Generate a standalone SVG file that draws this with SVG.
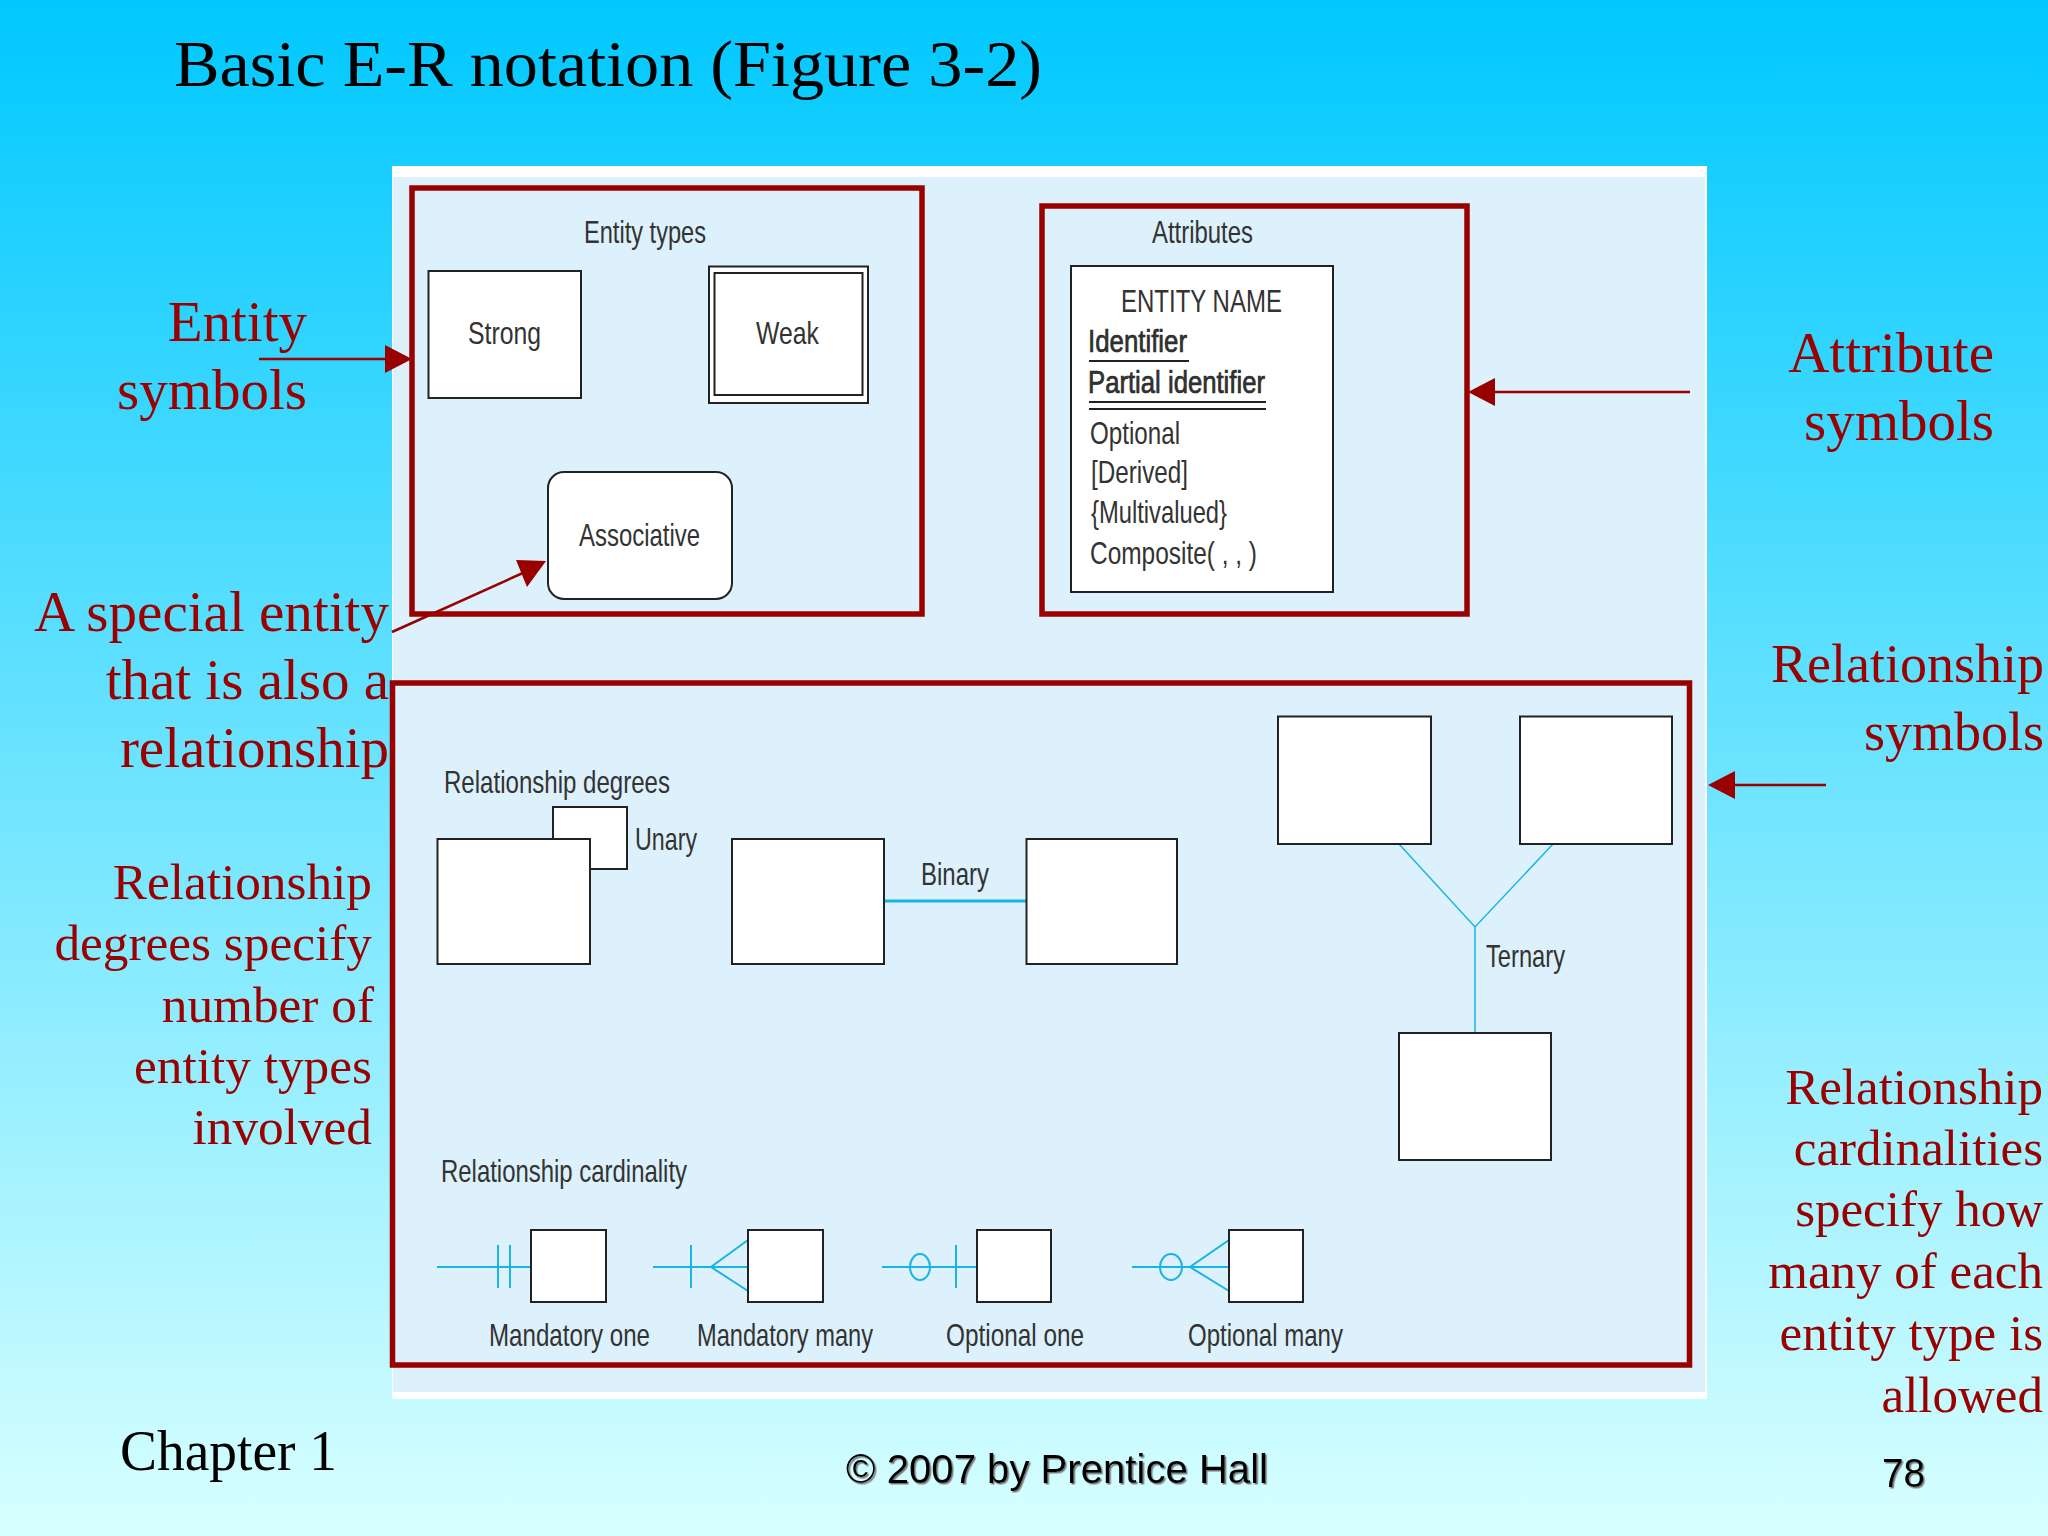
<svg xmlns="http://www.w3.org/2000/svg" width="2048" height="1536" viewBox="0 0 2048 1536">
<style>
.r{font-family:"Liberation Serif",serif;fill:#990000;text-anchor:end}
.r20{font-size:57px}.r18{font-size:51.300px}.r17{font-size:51px}.r54{font-size:54px}
.k{font-family:"Liberation Sans",Arial,sans-serif;fill:#333;font-size:32px}
.sb{stroke:#222;stroke-width:.7}
.b{fill:#fff;stroke:#222;stroke-width:2}
.f{fill:none;stroke:#990000;stroke-width:5.5}
.c{fill:none;stroke:#18b4e6;stroke-width:2}
.t{fill:none;stroke:#18b4e6;stroke-width:1.5}
.w{fill:none;stroke:#18b4e6;stroke-width:3}
.u{fill:none;stroke:#222;stroke-width:2}
.a{fill:none;stroke:#990000;stroke-width:2.5}
.h{fill:#990000}
.s{font-family:"Liberation Sans",sans-serif;font-size:40px;fill:#000;filter:url(#sh)}
</style>
<defs>
<linearGradient id="bg" x1="0" y1="0" x2="0" y2="1"><stop offset="0" stop-color="#00c8ff"/><stop offset="1" stop-color="#d8ffff"/></linearGradient>
<filter id="sh" x="-5%" y="-20%" width="110%" height="140%"><feDropShadow dx="1.5" dy="1.5" stdDeviation="0.6" flood-color="#777"/></filter>
</defs>
<rect width="2048" height="1536" fill="url(#bg)"/>
<text x="174" y="86" font-family="Liberation Serif,serif" font-size="66" fill="#000" textLength="868" lengthAdjust="spacingAndGlyphs">Basic E-R notation (Figure 3-2)</text>

<g id="panel">
<rect x="392" y="166" width="1315" height="1233" fill="#fff"/>
<rect x="393" y="177" width="1312" height="1215" fill="#dcf1fb"/>
</g>

<g id="entity-frame"><rect class="f" x="412" y="188" width="510" height="426"/>
<text class="k" x="584" y="243" textLength="122" lengthAdjust="spacingAndGlyphs">Entity types</text></g>
<g id="attr-frame"><rect class="f" x="1042" y="206" width="425" height="408"/>
<text class="k" x="1152" y="243" textLength="101" lengthAdjust="spacingAndGlyphs">Attributes</text></g>
<g id="rel-frame"><rect class="f" x="392.500" y="683" width="1297" height="682"/></g>

<g id="strong"><rect class="b" x="428.500" y="271" width="152.500" height="127"/>
<text class="k" x="468" y="344" textLength="73" lengthAdjust="spacingAndGlyphs">Strong</text></g>
<g id="weak"><rect class="b" x="709" y="266.500" width="159" height="136.500"/><rect class="b" x="714.500" y="273" width="148" height="122"/>
<text class="k" x="756" y="344" textLength="63" lengthAdjust="spacingAndGlyphs">Weak</text></g>
<g id="associative"><rect class="b" x="548" y="472" width="184" height="127" rx="16"/>
<text class="k" x="579" y="546" textLength="121" lengthAdjust="spacingAndGlyphs">Associative</text></g>

<g id="attributes"><rect class="b" x="1071" y="266" width="262" height="326"/>
<text class="k" x="1121" y="312" textLength="161" lengthAdjust="spacingAndGlyphs">ENTITY NAME</text>
<text class="k sb" x="1088" y="352" textLength="99" lengthAdjust="spacingAndGlyphs">Identifier</text>
<path class="u" d="M1089 361H1189"/>
<text class="k sb" x="1088" y="393" textLength="177" lengthAdjust="spacingAndGlyphs">Partial identifier</text>
<path class="u" d="M1089 402H1266M1089 409H1266"/>
<text class="k" x="1090" y="444" textLength="90" lengthAdjust="spacingAndGlyphs">Optional</text>
<text class="k" x="1091" y="483" textLength="97" lengthAdjust="spacingAndGlyphs">[Derived]</text>
<text class="k" x="1091" y="523" textLength="136" lengthAdjust="spacingAndGlyphs">{Multivalued}</text>
<text class="k" x="1090" y="564" textLength="167" lengthAdjust="spacingAndGlyphs">Composite( , , )</text></g>

<g id="connectors">
<path class="w" d="M884 901H1026"/>
<path class="t" d="M1399 844L1475 927L1553 844M1475 927V1033"/>
<path class="c" d="M437 1267H531M498 1245V1288M510 1245V1288"/>
<path class="c" d="M653 1267H748M691 1245V1288M748 1240L711 1267L748 1291"/>
<path class="c" d="M882 1267H977M956 1245V1288"/><ellipse class="c" cx="920" cy="1267" rx="10" ry="13"/>
<path class="c" d="M1132 1267H1229M1229 1240L1190 1267L1229 1291"/><ellipse class="c" cx="1171" cy="1267" rx="11" ry="13"/>
<path class="a" d="M259 359H386"/><polygon class="h" points="412,359 385,345 385,373"/>
<path class="a" d="M1690 392H1490"/><polygon class="h" points="1468,392 1495,378 1495,406"/>
<path class="a" d="M1826 785H1730"/><polygon class="h" points="1708,785 1735,771 1735,799"/>
<path class="a" d="M392 632L525 572"/><polygon class="h" points="546,561 516,560 527,587"/>
</g>

<g id="rel-degrees"><text class="k" x="444" y="793" textLength="226" lengthAdjust="spacingAndGlyphs">Relationship degrees</text></g>
<g id="unary"><rect class="b" x="553" y="807" width="74" height="62"/><rect class="b" x="437.500" y="839" width="152.500" height="125"/>
<text class="k" x="635" y="850" textLength="62" lengthAdjust="spacingAndGlyphs">Unary</text></g>
<g id="binary"><rect class="b" x="732" y="839" width="152" height="125"/><rect class="b" x="1026.500" y="839" width="150.500" height="125"/>
<text class="k" x="921" y="885" textLength="68" lengthAdjust="spacingAndGlyphs">Binary</text></g>
<g id="ternary"><rect class="b" x="1278" y="716.500" width="153" height="127.500"/><rect class="b" x="1520" y="716.500" width="152" height="127.500"/><rect class="b" x="1399" y="1033" width="152" height="127"/>
<text class="k" x="1486" y="967" textLength="79" lengthAdjust="spacingAndGlyphs">Ternary</text></g>

<g id="rel-cardinality"><text class="k" x="441" y="1182" textLength="246" lengthAdjust="spacingAndGlyphs">Relationship cardinality</text></g>
<g id="mandatory-one"><rect class="b" x="531" y="1230" width="75" height="72"/><text class="k" x="489" y="1346" textLength="161" lengthAdjust="spacingAndGlyphs">Mandatory one</text></g>
<g id="mandatory-many"><rect class="b" x="748" y="1230" width="75" height="72"/><text class="k" x="697" y="1346" textLength="176" lengthAdjust="spacingAndGlyphs">Mandatory many</text></g>
<g id="optional-one"><rect class="b" x="977" y="1230" width="74" height="72"/><text class="k" x="946" y="1346" textLength="138" lengthAdjust="spacingAndGlyphs">Optional one</text></g>
<g id="optional-many"><rect class="b" x="1229" y="1230" width="74" height="72"/><text class="k" x="1188" y="1346" textLength="155" lengthAdjust="spacingAndGlyphs">Optional many</text></g>

<g id="labels-left">
<text class="r r20" x="307" y="341">Entity</text><text class="r r20" x="307" y="409">symbols</text>
<text class="r r20" x="389" y="631" textLength="355" lengthAdjust="spacingAndGlyphs">A special entity</text><text class="r r20" x="389" y="699">that is also a</text><text class="r r20" x="389" y="767">relationship</text>
<text class="r r18" x="372" y="899">Relationship</text><text class="r r18" x="372" y="960">degrees specify</text><text class="r r18" x="374" y="1022">number of</text><text class="r r18" x="372" y="1083">entity types</text><text class="r r18" x="372" y="1144">involved</text>
</g>
<g id="labels-right">
<text class="r r20" x="1994" y="372">Attribute</text><text class="r r20" x="1994" y="440">symbols</text>
<text class="r r54" x="2044" y="682">Relationship</text><text class="r r54" x="2044" y="750">symbols</text>
<text class="r r17" x="2043" y="1104">Relationship</text><text class="r r17" x="2043" y="1165">cardinalities</text><text class="r r17" x="2043" y="1226">specify how</text><text class="r r17" x="2043" y="1288">many of each</text><text class="r r17" x="2043" y="1350">entity type is</text><text class="r r17" x="2043" y="1412">allowed</text>
</g>
<g id="footer">
<text x="120" y="1470" font-family="Liberation Serif,serif" font-size="57" fill="#000" textLength="217" lengthAdjust="spacingAndGlyphs">Chapter 1</text>
<text class="s" x="846" y="1483" textLength="422" lengthAdjust="spacingAndGlyphs">© 2007 by Prentice Hall</text>
<text class="s" x="1882" y="1487" textLength="43" lengthAdjust="spacingAndGlyphs">78</text>
</g>
</svg>
